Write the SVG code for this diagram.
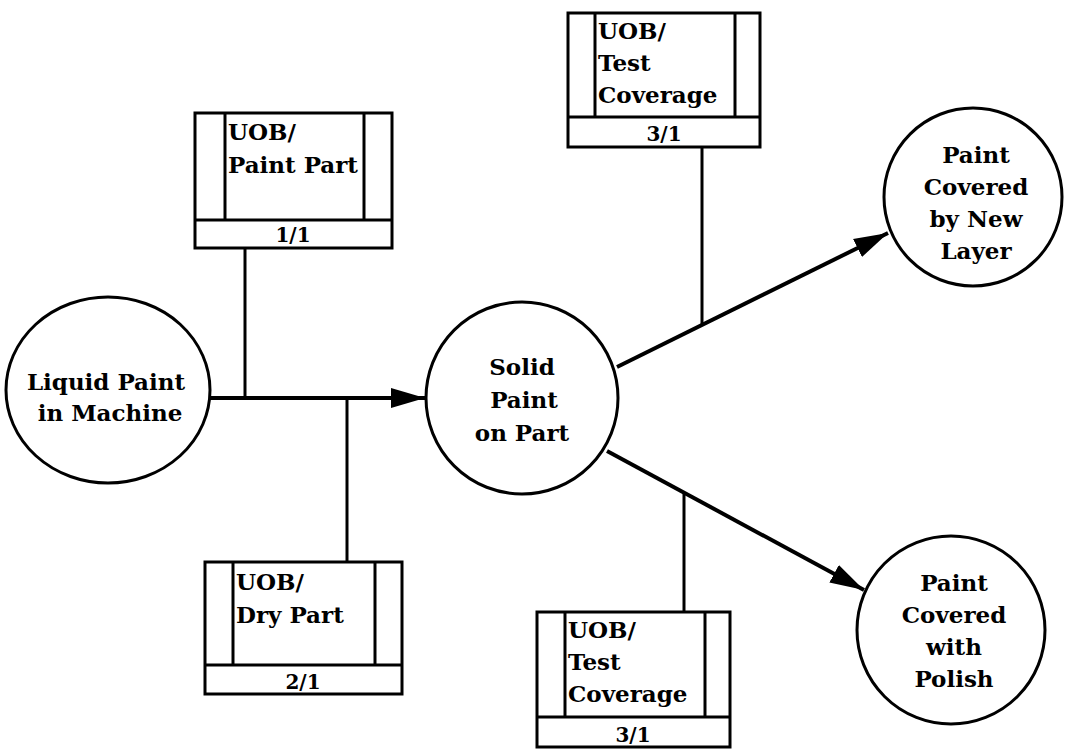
<svg xmlns="http://www.w3.org/2000/svg" width="1067" height="749" viewBox="0 0 1067 749">
<defs>
<style>
.shape{fill:#fff;stroke:#000;stroke-width:3}
.ln{fill:none;stroke:#000;stroke-width:3}
.arr{fill:none;stroke:#000;stroke-width:4}
text{font-family:"DejaVu Serif","Liberation Serif",serif;font-weight:bold;fill:#000}
.c{font-size:23px;text-anchor:middle}
.b{font-size:23px}
.s{font-size:20px;text-anchor:middle}
</style>
<marker id="ah" markerUnits="userSpaceOnUse" markerWidth="36" markerHeight="22" refX="34" refY="11" orient="auto">
<path d="M0,1 L34,11 L0,21 Z" fill="#000"/>
</marker>
</defs>
<rect width="1067" height="749" fill="#fff"/>
<g id="connectors">
<line class="arr" x1="210" y1="398" x2="425" y2="398" marker-end="url(#ah)"/>
<line class="ln" x1="245" y1="248" x2="245" y2="398"/>
<line class="ln" x1="347" y1="398" x2="347" y2="562"/>
<line class="arr" x1="617" y1="367" x2="888" y2="233" marker-end="url(#ah)"/>
<line class="ln" x1="702" y1="147" x2="702" y2="324"/>
<line class="arr" x1="607" y1="451" x2="864" y2="590" marker-end="url(#ah)"/>
<line class="ln" x1="684" y1="493" x2="684" y2="612"/>
</g>
<g id="n-liquid">
<ellipse class="shape" cx="108" cy="390" rx="102" ry="93"/>
<text class="c" x="106" y="390">Liquid Paint</text>
<text class="c" x="110" y="421">in Machine</text>
</g>
<g id="n-solid">
<circle class="shape" cx="522" cy="398" r="96"/>
<text class="c" x="522" y="375">Solid</text>
<text class="c" x="524" y="408">Paint</text>
<text class="c" x="522" y="441">on Part</text>
</g>
<g id="n-newlayer">
<circle class="shape" cx="973" cy="197" r="89"/>
<text class="c" x="976" y="163">Paint</text>
<text class="c" x="976" y="195">Covered</text>
<text class="c" x="976" y="227">by New</text>
<text class="c" x="976" y="259">Layer</text>
</g>
<g id="n-polish">
<circle class="shape" cx="951" cy="630" r="94"/>
<text class="c" x="954" y="591">Paint</text>
<text class="c" x="954" y="623">Covered</text>
<text class="c" x="954" y="655">with</text>
<text class="c" x="954" y="687">Polish</text>
</g>
<g id="n-paintpart">
<rect class="shape" x="195" y="113" width="197" height="135"/>
<line class="ln" x1="225" y1="113" x2="225" y2="220"/>
<line class="ln" x1="364" y1="113" x2="364" y2="220"/>
<line class="ln" x1="195" y1="220" x2="392" y2="220"/>
<text class="b" x="228" y="140">UOB/</text>
<text class="b" x="228" y="173">Paint Part</text>
<text class="s" x="293" y="242">1/1</text>
</g>
<g id="n-testcov-top">
<rect class="shape" x="568" y="13" width="192" height="134"/>
<line class="ln" x1="595" y1="13" x2="595" y2="117"/>
<line class="ln" x1="735" y1="13" x2="735" y2="117"/>
<line class="ln" x1="568" y1="117" x2="760" y2="117"/>
<text class="b" x="598" y="39">UOB/</text>
<text class="b" x="598" y="71">Test</text>
<text class="b" x="598" y="103">Coverage</text>
<text class="s" x="664" y="141">3/1</text>
</g>
<g id="n-drypart">
<rect class="shape" x="205" y="562" width="197" height="132"/>
<line class="ln" x1="233" y1="562" x2="233" y2="665"/>
<line class="ln" x1="375" y1="562" x2="375" y2="665"/>
<line class="ln" x1="205" y1="665" x2="402" y2="665"/>
<text class="b" x="236" y="590">UOB/</text>
<text class="b" x="236" y="623">Dry Part</text>
<text class="s" x="303" y="689">2/1</text>
</g>
<g id="n-testcov-bottom">
<rect class="shape" x="537" y="612" width="193" height="135"/>
<line class="ln" x1="565" y1="612" x2="565" y2="717"/>
<line class="ln" x1="705" y1="612" x2="705" y2="717"/>
<line class="ln" x1="537" y1="717" x2="730" y2="717"/>
<text class="b" x="568" y="638">UOB/</text>
<text class="b" x="568" y="670">Test</text>
<text class="b" x="568" y="702">Coverage</text>
<text class="s" x="633" y="742">3/1</text>
</g>
</svg>
